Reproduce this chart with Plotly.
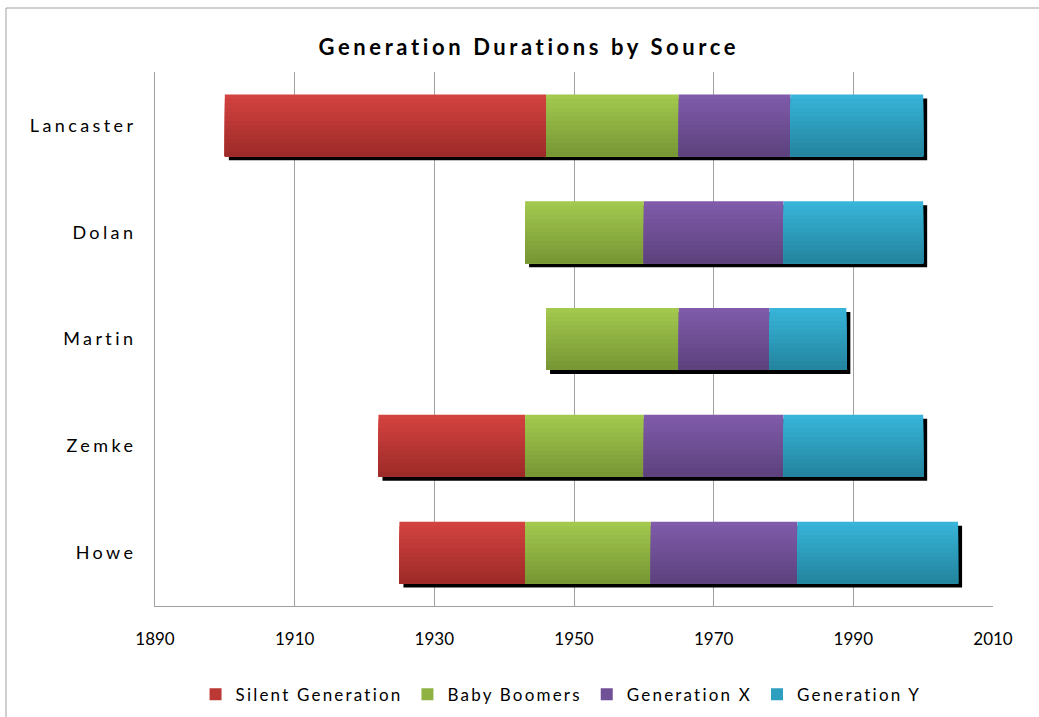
import plotly.graph_objects as go

sources = ["Lancaster", "Dolan", "Martin", "Zemke", "Howe"]
start_year = [1900, 1943, 1946, 1922, 1925]
series_names = ["Silent Generation", "Baby Boomers", "Generation X", "Generation Y"]
silent = [46, 0, 0, 21, 18]
boomers = [19, 17, 19, 17, 18]
gen_x = [16, 20, 13, 20, 21]
gen_y = [19, 20, 11, 20, 23]
x_ticks = [1890, 1910, 1930, 1950, 1970, 1990, 2010]

top_colors = ["#D2423F", "#A2C84E", "#7F5BA9", "#37B4D8"]
bot_colors = ["#9E2B29", "#789735", "#5D427E", "#23859F"]


def hex2rgb(h):
    return tuple(int(h[i:i + 2], 16) for i in (1, 3, 5))


def mix(a, b, t):
    ra, rb = hex2rgb(a), hex2rgb(b)
    return "rgb(%d,%d,%d)" % tuple(round(ra[i] + (rb[i] - ra[i]) * t) for i in range(3))


def spaced(text, px):
    return '<span style="letter-spacing:%.1fpx">%s</span>' % (px, text)


ypos = [len(sources) - 1 - i for i in range(len(sources))]
bar_w = 0.58
n_slices = 14
px_per_year = (993 - 155) / 120.0
px_per_cat = 106.75

fig = go.Figure()

values = [silent, boomers, gen_x, gen_y]
totals = [sum(v[i] for v in values) for i in range(len(sources))]

# shadow
fig.add_trace(go.Bar(
    orientation="h",
    y=[p - 4 / px_per_cat for p in ypos],
    x=totals,
    base=[s + 4 / px_per_year for s in start_year],
    width=bar_w,
    marker=dict(color="black", line=dict(width=0)),
    showlegend=False, hoverinfo="skip",
))

bases = list(start_year)
for si, (name, vals) in enumerate(zip(series_names, values)):
    for k in range(n_slices):
        t = k / (n_slices - 1)
        top = bar_w / 2 - k * bar_w / n_slices
        bottom = -bar_w / 2
        fig.add_trace(go.Bar(
            orientation="h",
            y=[p + (top + bottom) / 2 for p in ypos],
            x=vals,
            base=bases,
            width=top - bottom,
            marker=dict(color=mix(top_colors[si], bot_colors[si], t), line=dict(width=0)),
            legendgroup=name,
            showlegend=False,
            hoverinfo="skip",
        ))
    fig.add_trace(go.Bar(
        orientation="h", y=[None], x=[None], name=spaced(name, 2.2), legendgroup=name,
        marker=dict(color=mix(top_colors[si], bot_colors[si], 0.45), line=dict(width=0)),
        showlegend=True,
    ))
    bases = [b + v for b, v in zip(bases, vals)]

fig.update_layout(
    barmode="overlay",
    width=1039, height=717,
    margin=dict(l=155, r=46, t=72, b=111),
    paper_bgcolor="white", plot_bgcolor="white",
    font=dict(family="Lato, 'Open Sans', sans-serif", color="black"),
    title=dict(text="<b>" + spaced("Generation Durations by Source", 3.6) + "</b>",
               x=0.509, xanchor="center", y=0.934, yanchor="middle",
               font=dict(size=22, family="Lato, sans-serif")),
    xaxis=dict(range=[1890, 2010], tickvals=x_ticks, showgrid=True, gridcolor="#A0A0A0",
               gridwidth=1, showline=True, linecolor="#A0A0A0", ticks="",
               tickfont=dict(size=17), zeroline=False, ticklabelstandoff=18),
    yaxis=dict(range=[-0.5, 4.5], tickvals=ypos, ticktext=[spaced(s, 3.4) for s in sources],
               showgrid=False, showline=True, linecolor="#A0A0A0", tickfont=dict(size=18),
               zeroline=False, ticks="", ticklabelstandoff=14),
    legend=dict(orientation="h", x=0.54, xref="container", xanchor="center",
                y=0.031, yref="container", yanchor="middle",
                font=dict(size=17), itemwidth=30, traceorder="normal"),
    shapes=[dict(type="rect", xref="paper", yref="paper",
                 x0=(6 - 155) / 838, x1=(1100 - 155) / 838,
                 y0=-0.5, y1=1 + (72 - 8) / 534,
                 line=dict(color="#A0A0A0", width=1), fillcolor="rgba(0,0,0,0)", layer="below")],
)

fig.write_html("out.html", config={"displayModeBar": False},
               post_script="document.body.style.margin='0';")
